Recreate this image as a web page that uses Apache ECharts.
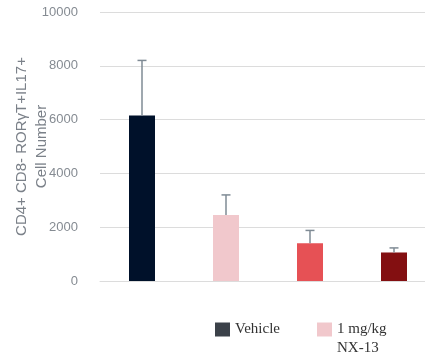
<!DOCTYPE html>
<html><head><meta charset="utf-8">
<script src="https://cdn.jsdelivr.net/npm/echarts@6/dist/echarts.min.js"></script>
<style>html,body{margin:0;padding:0;background:#fff}#c{width:425px;height:362px}</style>
</head><body><div id="c"></div>
<script>
const categories = ['Vehicle', '1 mg/kg\nNX-13', 'Group 3', 'Group 4'];
const means = [6150, 2450, 1400, 1060];
const errUpper = [8200, 3200, 1880, 1230];
const barColors = ['#00112a', '#f1c8cc', '#e65155', '#830f11'];
const yTicks = [0, 2000, 4000, 6000, 8000, 10000];

const chart = echarts.init(document.getElementById('c'));
const barSeries = categories.map((name, i) => ({
  name: name,
  type: 'bar',
  barWidth: 26,
  barGap: '-100%',
  itemStyle: { color: barColors[i] },
  data: categories.map((c, j) => j === i ? means[j] : '-'),
  z: 2
}));
const errSeries = {
  type: 'custom',
  name: 'err',
  z: 3,
  data: categories.map((c, i) => [i, means[i], errUpper[i]]),
  renderItem: function (params, api) {
    const p0 = api.coord([api.value(0), api.value(1)]);
    const p1 = api.coord([api.value(0), api.value(2)]);
    const hw = 4.5;
    return {
      type: 'group',
      children: [
        { type: 'line', shape: { x1: p0[0], y1: p0[1], x2: p1[0], y2: p1[1] }, style: { stroke: '#7f8b95', lineWidth: 1.5 } },
        { type: 'line', shape: { x1: p1[0] - hw, y1: p1[1], x2: p1[0] + hw, y2: p1[1] }, style: { stroke: '#7f8b95', lineWidth: 1.5 } }
      ]
    };
  }
};
chart.setOption({
  animation: false,
  grid: { left: 100, right: -11, top: 12, bottom: 81, outerBoundsMode: 'none', containLabel: false },
  legend: {
    left: 215, top: 301, padding: 0,
    itemWidth: 15, itemHeight: 14, itemGap: 37,
    icon: 'rect',
    data: [
      { name: categories[0], itemStyle: { color: '#3b4149' } },
      { name: categories[1] }
    ],
    formatter: function (n) { return n.indexOf('\n') >= 0 ? ' \n' + n : ' \n' + n + '\n '; },
    textStyle: { fontFamily: 'Liberation Serif', fontSize: 15, color: '#333', lineHeight: 19 }
  },
  xAxis: {
    type: 'category',
    data: categories,
    axisLine: { show: true, lineStyle: { color: '#dcdcdc' } },
    axisTick: { show: false },
    axisLabel: { show: false }
  },
  yAxis: {
    type: 'value',
    min: 0, max: 10000, interval: 2000,
    name: 'CD4+ CD8- RORγT+IL17+\nCell Number',
    nameLocation: 'middle',
    nameGap: 48,
    nameMoveOverlap: false,
    nameTextStyle: { fontFamily: 'Liberation Sans', fontSize: 15, color: '#7b8189', lineHeight: 20 },
    axisLabel: { fontFamily: 'Liberation Sans', fontSize: 13, color: '#858b92', margin: 22,
      formatter: function (v) { return yTicks.indexOf(v) >= 0 ? String(v) : ''; } },
    axisLine: { show: false },
    axisTick: { show: false },
    splitLine: { lineStyle: { color: '#dcdcdc', width: 1 } }
  },
  series: barSeries.concat([errSeries])
});
</script></body></html>
